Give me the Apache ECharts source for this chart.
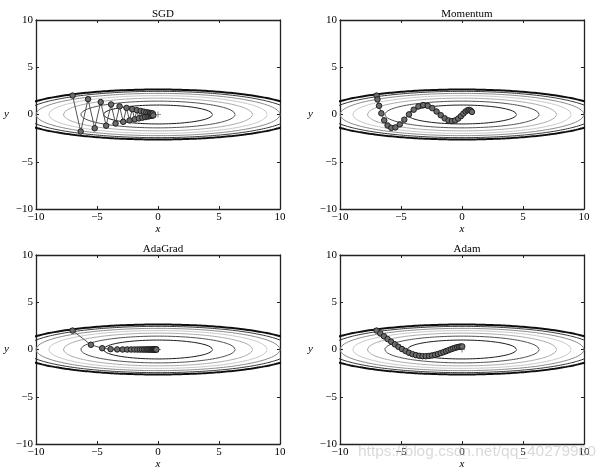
<!DOCTYPE html>
<html><head><meta charset="utf-8">
<script src="https://cdn.jsdelivr.net/npm/echarts@6/dist/echarts.min.js"></script>
<style>html,body{margin:0;padding:0;background:#fff}#c{width:613px;height:473px}</style>
</head><body><div id="c"></div>
<script>
// ---- data ----
const titles = ['SGD', 'Momentum', 'AdaGrad', 'Adam'];
const tickValues = [-10, -5, 0, 5, 10];
const contourLevels = [1, 2, 3, 4, 5, 6, 7];

const sgdX = [-7, -6.335, -5.733, -5.189, -4.696, -4.25, -3.846, -3.48, -3.15, -2.851, -2.58, -2.335, -2.113, -1.912, -1.731, -1.566, -1.417, -1.283, -1.161, -1.051, -0.951, -0.86, -0.779, -0.705, -0.638, -0.577, -0.522, -0.473, -0.428, -0.387];
const sgdY = [2, -1.8, 1.62, -1.458, 1.312, -1.181, 1.063, -0.957, 0.861, -0.775, 0.697, -0.628, 0.565, -0.508, 0.458, -0.412, 0.371, -0.334, 0.3, -0.27, 0.243, -0.219, 0.197, -0.177, 0.16, -0.144, 0.129, -0.116, 0.105, -0.094];

const momX = [-7, -6.93, -6.798, -6.611, -6.376, -6.101, -5.793, -5.458, -5.101, -4.729, -4.348, -3.96, -3.572, -3.187, -2.809, -2.44, -2.084, -1.743, -1.418, -1.112, -0.825, -0.558, -0.313, -0.089, 0.113, 0.295, 0.455, 0.594, 0.714, 0.814];
const momY = [2, 1.6, 0.92, 0.124, -0.617, -1.161, -1.418, -1.366, -1.046, -0.548, 0.009, 0.509, 0.857, 0.998, 0.927, 0.676, 0.316, -0.071, -0.406, -0.626, -0.699, -0.624, -0.433, -0.174, 0.094, 0.316, 0.453, 0.486, 0.418, 0.273];

const adaX = [-7, -5.5, -4.573, -3.888, -3.345, -2.899, -2.524, -2.206, -1.932, -1.695, -1.489, -1.31, -1.153, -1.015, -0.895, -0.788, -0.695, -0.613, -0.54, -0.477, -0.42, -0.371, -0.327, -0.289, -0.255, -0.225, -0.198, -0.175, -0.154, -0.136];
const adaY = [2, 0.5, 0.136, 0.037, 0.01, 0.003, 0.001, 0.0002, 0.0001, 0, 0, 0, 0, 0, 0, 0, 0, 0, 0, 0, 0, 0, 0, 0, 0, 0, 0, 0, 0, 0];

const adamX = [-7, -6.7, -6.4, -6.102, -5.804, -5.507, -5.213, -4.92, -4.63, -4.343, -4.059, -3.78, -3.504, -3.234, -2.969, -2.71, -2.457, -2.211, -1.973, -1.743, -1.521, -1.309, -1.106, -0.913, -0.73, -0.558, -0.396, -0.246, -0.107, 0.02];
const adamY = [2, 1.7, 1.402, 1.109, 0.823, 0.548, 0.288, 0.049, -0.164, -0.346, -0.492, -0.6, -0.671, -0.706, -0.708, -0.682, -0.631, -0.561, -0.476, -0.38, -0.279, -0.176, -0.075, 0.021, 0.106, 0.18, 0.239, 0.283, 0.31, 0.322];

const originPoint = [[0, 0]];
const watermark = 'https://blog.csdn.net/qq_40279960';

// ---- style / layout ----
const paths = [[sgdX, sgdY], [momX, momY], [adaX, adaY], [adamX, adamY]];
const contourColors = ['#1a1a1a', '#505050', '#ababab', '#c8c8c8', '#8a8a8a', '#363636', '#0e0e0e'];
const contourWidths = [1, 1, 1, 1, 1, 1, 2];
const gridPos = [[36, 20], [340, 20], [36, 255], [340, 255]];
const W = 244, H = 189;
const FONT = 'Liberation Serif';

function fmt(v) { return v < 0 ? '\u2212' + (-v) : String(v); }
function ellipse(c) {
  const pts = [], a = Math.sqrt(20 * c), b = Math.sqrt(c), n = 720;
  for (let i = 0; i <= n; i++) {
    const t = i / n * 2 * Math.PI;
    pts.push([a * Math.cos(t), b * Math.sin(t)]);
  }
  return pts;
}

const grid = [], xAxis = [], yAxis = [], series = [], title = [];
const lineCol = '#222';
const base = (gi) => ({
  type: 'value', gridIndex: gi, min: tickValues[0], max: tickValues[tickValues.length - 1],
  interval: tickValues[1] - tickValues[0],
  axisLine: { show: true, onZero: false, lineStyle: { color: lineCol, width: 1.3 } },
  axisTick: { show: true, inside: true, length: 3, lineStyle: { color: lineCol, width: 1 } },
  splitLine: { show: false },
  axisLabel: { show: true, formatter: fmt, fontFamily: FONT, fontSize: 11, color: '#000', margin: 3, showMinLabel: true, showMaxLabel: true }
});

gridPos.forEach((p, i) => {
  grid.push({ left: p[0], top: p[1], width: W, height: H });
  title.push({ text: titles[i], left: p[0] + W / 2, top: p[1] - 16, textAlign: 'center',
    textStyle: { fontFamily: FONT, fontSize: 11, fontWeight: 'normal', color: '#000' } });
  xAxis.push(Object.assign(base(i), { position: 'bottom', name: 'x', nameLocation: 'middle', nameGap: 15,
    nameTextStyle: { fontFamily: FONT, fontStyle: 'italic', fontSize: 11, color: '#000' } }));
  const xt = base(i); xt.position = 'top'; xt.axisLabel = { show: false }; xAxis.push(xt);
  yAxis.push(Object.assign(base(i), { position: 'left', name: 'y', nameLocation: 'middle', nameRotate: 0, nameGap: 27,
    nameTextStyle: { fontFamily: FONT, fontStyle: 'italic', fontSize: 11, color: '#000' } }));
  const yr = base(i); yr.position = 'right'; yr.axisLabel = { show: false }; yAxis.push(yr);

  contourLevels.forEach((c, j) => {
    series.push({ type: 'line', xAxisIndex: 2 * i, yAxisIndex: 2 * i, data: ellipse(c), symbol: 'none',
      showSymbol: false, silent: true, clip: true, z: 2,
      lineStyle: { color: contourColors[j], width: contourWidths[j] } });
  });
  series.push({ type: 'scatter', xAxisIndex: 2 * i, yAxisIndex: 2 * i, data: originPoint, silent: true, z: 4,
    symbol: 'path://M4,0H6V4H10V6H6V10H4V6H0V4H4Z', symbolSize: 6, itemStyle: { color: '#7a7a7a' } });
  const px = paths[i][0], py = paths[i][1];
  series.push({ type: 'line', xAxisIndex: 2 * i, yAxisIndex: 2 * i, data: px.map((x, k) => [x, py[k]]),
    symbol: 'circle', symbolSize: 5.5, showSymbol: true, silent: true, z: 5, clip: true,
    itemStyle: { color: '#6c6c6c', borderColor: '#1e1e1e', borderWidth: 1 },
    lineStyle: { color: '#555', width: 1 } });
});

const chart = echarts.init(document.getElementById('c'), null, { renderer: 'canvas' });
chart.setOption({
  animation: false, backgroundColor: '#fff',
  title, grid, xAxis, yAxis, series,
  graphic: [{ type: 'text', left: 358, top: 444, z: 100, silent: true,
    style: { text: watermark, fill: 'rgba(185,185,185,0.55)', font: '15.5px "Liberation Sans"' } }]
});
</script></body></html>
